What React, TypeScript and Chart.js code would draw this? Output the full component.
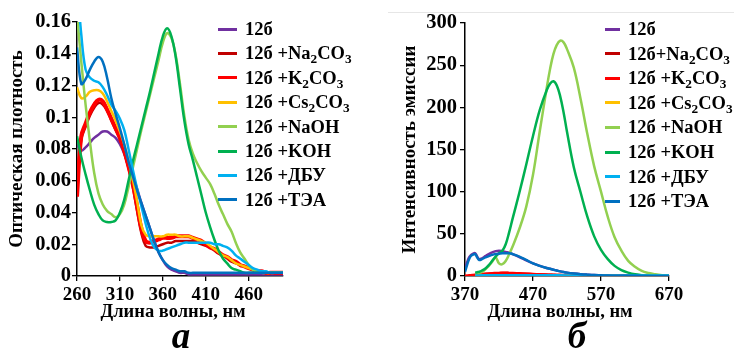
import React, { useEffect, useRef } from "react";
import { Chart, registerables } from "chart.js";

Chart.register(...registerables);

const FONT = '"Liberation Serif", "Times New Roman", Times, serif';

// ---------- panel а: absorption ----------
const ABS_WAVELENGTHS = [
  260, 265, 270, 275, 280, 285, 290, 295, 300, 305, 310, 315, 320, 325, 330, 335, 340,
  345, 350, 355, 360, 365, 370, 375, 380, 385, 390, 395, 400, 405, 410, 415, 420, 425,
  430, 435, 440, 445, 450, 455, 460, 465, 470, 475, 480, 485, 490, 495, 500,
];
const ABS_12B = [
  0.083, 0.079, 0.081, 0.084, 0.087, 0.089, 0.091, 0.091, 0.089, 0.087, 0.083, 0.077, 0.069,
  0.063, 0.055, 0.046, 0.038, 0.03, 0.022, 0.015, 0.01, 0.006, 0.004, 0.003, 0.002, 0.002,
  0.001, 0.001, 0.001, 0.001, 0.001, 0.001, 0.001, 0.001, 0.001, 0.001, 0.001, 0.001, 0.001,
  0.001, 0.001, 0.001, 0.001, 0.001, 0.001, 0.001, 0.001, 0.001, 0.001,
];
const ABS_NA2CO3 = [
  0.06, 0.086, 0.094, 0.101, 0.106, 0.109, 0.108, 0.104, 0.098, 0.092, 0.086, 0.078, 0.068,
  0.056, 0.041, 0.027, 0.019, 0.018, 0.018, 0.019, 0.02, 0.021, 0.021, 0.022, 0.022, 0.022,
  0.022, 0.022, 0.021, 0.02, 0.019, 0.018, 0.016, 0.014, 0.013, 0.011, 0.009, 0.008, 0.007,
  0.006, 0.005, 0.004, 0.003, 0.003, 0.002, 0.002, 0.002, 0.002, 0.002,
];
const ABS_K2CO3 = [
  0.05, 0.088, 0.096, 0.103, 0.108, 0.111, 0.11, 0.105, 0.099, 0.093, 0.087, 0.079, 0.069,
  0.058, 0.044, 0.03, 0.022, 0.021, 0.022, 0.023, 0.024, 0.024, 0.024, 0.025, 0.025, 0.025,
  0.025, 0.024, 0.023, 0.022, 0.02, 0.018, 0.017, 0.015, 0.013, 0.012, 0.01, 0.009, 0.007,
  0.006, 0.005, 0.004, 0.003, 0.003, 0.002, 0.002, 0.002, 0.002, 0.002,
];
const ABS_CS2CO3 = [
  0.119, 0.112, 0.113, 0.116, 0.117, 0.117, 0.115, 0.11, 0.104, 0.098, 0.091, 0.083, 0.073,
  0.061, 0.047, 0.032, 0.026, 0.025, 0.025, 0.025, 0.025, 0.026, 0.026, 0.026, 0.025, 0.025,
  0.025, 0.024, 0.023, 0.022, 0.021, 0.019, 0.017, 0.015, 0.013, 0.012, 0.01, 0.008, 0.007,
  0.006, 0.005, 0.004, 0.003, 0.003, 0.002, 0.002, 0.002, 0.002, 0.002,
];
const ABS_NAOH = [
  0.165, 0.135, 0.108, 0.085, 0.065, 0.052, 0.045, 0.041, 0.039, 0.037, 0.039, 0.045, 0.056,
  0.068, 0.08, 0.092, 0.103, 0.114, 0.125, 0.136, 0.147, 0.153, 0.15, 0.139, 0.121, 0.101,
  0.086, 0.077, 0.071, 0.066, 0.062, 0.058, 0.052, 0.045, 0.039, 0.033, 0.028, 0.021, 0.015,
  0.011, 0.007, 0.004, 0.003, 0.002, 0.002, 0.002, 0.002, 0.002, 0.002,
];
const ABS_KOH = [
  0.088, 0.075, 0.064, 0.054, 0.045, 0.039, 0.035, 0.034, 0.034, 0.035, 0.04, 0.048, 0.06,
  0.072, 0.083, 0.094, 0.105, 0.116, 0.128, 0.14, 0.151, 0.156, 0.151, 0.138, 0.118, 0.098,
  0.083, 0.073, 0.062, 0.051, 0.04, 0.031, 0.023, 0.016, 0.011, 0.008, 0.005, 0.004, 0.003,
  0.002, 0.002, 0.002, 0.002, 0.002, 0.002, 0.002, 0.002, 0.002, 0.002,
];
const ABS_DBU = [
  0.185, 0.152, 0.13, 0.125, 0.123, 0.122, 0.119, 0.114, 0.108, 0.104, 0.099, 0.092, 0.08,
  0.067, 0.055, 0.044, 0.033, 0.024, 0.018, 0.016, 0.016, 0.017, 0.018, 0.019, 0.02, 0.021,
  0.021, 0.021, 0.021, 0.021, 0.021, 0.021, 0.02, 0.02, 0.019, 0.018, 0.016, 0.013, 0.011,
  0.009, 0.007, 0.005, 0.004, 0.003, 0.003, 0.002, 0.002, 0.002, 0.002,
];
const ABS_TEA = [
  0.144, 0.121, 0.124, 0.13, 0.135, 0.138, 0.135, 0.125, 0.112, 0.102, 0.093, 0.083, 0.072,
  0.063, 0.054, 0.046, 0.038, 0.03, 0.022, 0.015, 0.01, 0.007, 0.005, 0.004, 0.003, 0.003,
  0.002, 0.002, 0.002, 0.002, 0.002, 0.002, 0.002, 0.002, 0.002, 0.002, 0.002, 0.002, 0.002,
  0.002, 0.002, 0.002, 0.002, 0.002, 0.002, 0.002, 0.002, 0.002, 0.002,
];
const ABS_X_TICKS = [260, 310, 360, 410, 460];

// ---------- panel б: emission ----------
const EM_WAVELENGTHS = [
  370, 373, 376, 379, 382, 385, 388, 391, 395, 400, 405, 410, 415, 420, 425, 430, 435, 440,
  450, 460, 470, 480, 490, 495, 500, 505, 510, 515, 520, 530, 540, 550, 560, 570, 580, 590,
  600, 610, 620, 630, 640, 650, 660, 670,
];
const EM_12B = [
  8, 16, 22, 25, 26.5, 27, 23, 20, 21, 23.5, 26, 28, 29.5, 30, 29.5, 28.5, 27.5, 26, 22.5,
  18.5, 15, 12, 9.5, 8.5, 7.5, 6.5, 5.5, 4.7, 4, 3, 2.2, 1.6, 1.1, 0.8, 0.5, 0.4, 0.3, 0.2,
  0.2, 0.1, 0.1, 0.1, 0, 0,
];
const EM_NA2CO3 = [
  null, null, null, null, null, 1, 1.3, 1.6, 2, 2.4, 2.8, 3.1, 3.3, 3.4, 3.5, 3.5, 3.4, 3.3,
  3, 2.6, 2.2, 1.8, 1.5, 1.4, 1.3, 1.2, 1.1, 1, 0.9, 0.7, 0.6, 0.5, 0.4, 0.3, 0.3, 0.2, 0.2,
  0.1, 0.1, 0.1, 0, 0, 0, 0,
];
const EM_K2CO3 = [
  0.3, 0.5, 0.8, 1, 1.2, 1.5, 1.8, 2, 2.3, 2.6, 3, 3.3, 3.5, 3.7, 3.8, 3.8, 3.7, 3.6, 3.2,
  2.8, 2.4, 2, 1.7, 1.5, 1.4, 1.3, 1.1, 1, 0.9, 0.7, 0.6, 0.5, 0.4, 0.3, 0.3, 0.2, 0.2, 0.1,
  0.1, 0.1, 0, 0, 0, 0,
];
const EM_CS2CO3 = [
  null, null, null, null, null, 0.3, 0.4, 0.4, 0.5, 0.5, 0.5, 0.5, 0.5, 0.5, 0.5, 0.5, 0.5,
  0.5, 0.5, 0.5, 0.5, 0.4, 0.4, 0.4, 0.4, 0.4, 0.3, 0.3, 0.3, 0.3, 0.3, 0.2, 0.2, 0.2, 0.2,
  0.2, 0.1, 0.1, 0.1, 0.1, 0.1, 0.1, 0, 0,
];
const EM_NAOH = [
  null, null, null, null, null, 3, 3.5, 4, 5, 8, 12, 17, 22, 15, 14, 18, 26, 35, 56, 82, 120,
  172, 222, 245, 263, 274, 279, 277, 269, 247, 210, 168, 130, 100, 70, 46, 30, 18, 11, 6,
  3.5, 2, 1, 0.5,
];
const EM_KOH = [
  null, null, null, null, null, 4, 4.5, 5, 6.5, 9, 13, 18, 23, 27, 30, 38, 52, 68, 99, 132,
  166, 197, 220, 228, 231, 226, 213, 194, 171, 129, 99, 70, 47, 31, 20, 12, 7, 4, 2, 1, 0.4,
  0.1, 0, 0,
];
const EM_DBU = [
  null, null, null, null, null, 0.6, 0.7, 0.7, 0.8, 0.9, 0.9, 1, 1, 1, 1, 1, 1, 1, 1, 0.9,
  0.9, 0.9, 0.8, 0.8, 0.8, 0.8, 0.8, 0.7, 0.7, 0.7, 0.7, 0.6, 0.6, 0.6, 0.6, 0.5, 0.5, 0.5,
  0.5, 0.5, 0.5, 0.5, 0.5, 0.5,
];
const EM_TEA = [
  5, 13, 20, 24, 25.5, 26, 22, 19, 20, 22, 23.5, 25, 26, 26.5, 27, 27, 27, 26, 23, 19, 15,
  12, 9.5, 8.5, 7.5, 6.5, 5.5, 4.7, 4, 3, 2.2, 1.6, 1.1, 0.8, 0.5, 0.4, 0.3, 0.2, 0.2, 0.1,
  0.1, 0.1, 0, 0,
];
const EM_X_TICKS = [370, 470, 570, 670];

// ---------- series ----------
const SERIES_COLORS = [
  "#7030A0", "#C00000", "#FF0000", "#FFC000", "#92D050", "#00B050", "#00B0F0", "#0070C0",
];
const SERIES_LABELS = [
  "12б", "12б +Na₂CO₃", "12б +K₂CO₃", "12б +Cs₂CO₃", "12б +NaOH", "12б +KOH", "12б +ДБУ", "12б +ТЭА",
];
const LEGEND_A = [
  "12б", "12б +Na_2CO_3", "12б +K_2CO_3", "12б +Cs_2CO_3", "12б +NaOH", "12б +KOH", "12б +ДБУ", "12б +ТЭА",
];
const LEGEND_B = [
  "12б", "12б+Na_2CO_3", "12б +K_2CO_3", "12б +Cs_2CO_3", "12б +NaOH", "12б +KOH", "12б +ДБУ", "12б +ТЭА",
];
const ABS_WIDTHS = [2.5, 2.5, 4, 2.5, 2.5, 2.5, 2.5, 2.5];
const EM_WIDTHS = [2.5, 2.5, 2.5, 2.5, 2.5, 2.5, 2.5, 2.5];

function buildDatasets(xs: number[], ys: (number | null)[][], widths: number[]) {
  return ys.map((y, i) => ({
    label: SERIES_LABELS[i],
    data: xs.map((x, j) => ({ x, y: y[j] })),
    borderColor: SERIES_COLORS[i],
    backgroundColor: SERIES_COLORS[i],
    borderWidth: widths[i],
    pointRadius: 0,
    pointHoverRadius: 0,
    tension: 0.4,
    fill: false,
    spanGaps: false,
    order: -i,
  }));
}

function makeScales(o: {
  xMin: number; xMax: number; xTicks: number[];
  yMax: number; yStep: number; yWidth: number;
  yTitle: string; yTitlePad: number; yLabelPad: number;
  yFmt: (v: number) => string;
}) {
  const grid = { drawOnChartArea: false, drawTicks: true, tickLength: 5, color: "#000", lineWidth: 1.3 };
  const border = { display: true, color: "#000", width: 1.5 };
  return {
    x: {
      type: "linear" as const,
      min: o.xMin,
      max: o.xMax,
      afterBuildTicks: (s: any) => { s.ticks = o.xTicks.map((value) => ({ value })); },
      afterFit: (s: any) => { s.height = 78; },
      grid, border,
      ticks: {
        color: "#000", font: { family: FONT, size: 19, weight: "bold" as const },
        padding: 3, maxRotation: 0, autoSkip: false,
      },
      title: {
        display: true,
        text: "Длина волны, нм\u00A0\u00A0\u00A0",
        color: "#000",
        font: { family: FONT, size: 18.5, weight: "bold" as const },
        padding: { top: 0, bottom: 31 },
      },
    },
    y: {
      type: "linear" as const,
      min: 0,
      max: o.yMax,
      afterFit: (s: any) => { s.width = o.yWidth; },
      grid, border,
      ticks: {
        stepSize: o.yStep, color: "#000", font: { family: FONT, size: 20.5, weight: "bold" as const },
        padding: o.yLabelPad,
        callback: (v: any) => o.yFmt(Number(v)),
      },
      title: {
        display: true,
        text: o.yTitle,
        color: "#000",
        font: { family: FONT, size: 19, weight: "bold" as const },
        padding: { top: o.yTitlePad, bottom: 0 },
      },
    },
  };
}

function makeAbsConfig(): any {
  return {
    type: "line",
    data: {
      datasets: buildDatasets(
        ABS_WAVELENGTHS,
        [ABS_12B, ABS_NA2CO3, ABS_K2CO3, ABS_CS2CO3, ABS_NAOH, ABS_KOH, ABS_DBU, ABS_TEA],
        ABS_WIDTHS,
      ),
    },
    options: {
      responsive: false,
      animation: false,
      events: [],
      layout: { padding: { top: 22, right: 87, bottom: 0, left: 0 } },
      plugins: { legend: { display: false }, tooltip: { enabled: false } },
      scales: makeScales({
        xMin: 260, xMax: 500, xTicks: ABS_X_TICKS,
        yMax: 0.16, yStep: 0.02, yWidth: 77,
        yTitle: "Оптическая плотность", yTitlePad: 6, yLabelPad: 1,
        yFmt: (v) => String(parseFloat(v.toFixed(2))),
      }),
    },
  };
}

function makeEmConfig(): any {
  return {
    type: "line",
    data: {
      datasets: buildDatasets(
        EM_WAVELENGTHS,
        [EM_12B, EM_NA2CO3, EM_K2CO3, EM_CS2CO3, EM_NAOH, EM_KOH, EM_DBU, EM_TEA],
        EM_WIDTHS,
      ),
    },
    options: {
      responsive: false,
      animation: false,
      events: [],
      layout: { padding: { top: 23, right: 65, bottom: 0, left: 0 } },
      plugins: { legend: { display: false }, tooltip: { enabled: false } },
      scales: makeScales({
        xMin: 370, xMax: 670, xTicks: EM_X_TICKS,
        yMax: 300, yStep: 50, yWidth: 95,
        yTitle: "Интенсивность эмиссии", yTitlePad: 29, yLabelPad: 3,
        yFmt: (v) => String(Math.round(v)),
      }),
    },
  };
}

function ChartPanel({ width, height, make }: { width: number; height: number; make: () => any }) {
  const ref = useRef<HTMLCanvasElement>(null);
  useEffect(() => {
    const chart = new Chart(ref.current as HTMLCanvasElement, make());
    return () => chart.destroy();
  }, []);
  return <canvas ref={ref} width={width} height={height} style={{ width, height, display: "block" }} />;
}

function renderSub(label: string) {
  const parts = label.split(/_(\d)/);
  return parts.map((p, i) =>
    i % 2 === 1 ? (
      <sub key={i} style={{ fontSize: "0.72em", verticalAlign: "-0.28em", lineHeight: 0 }}>{p}</sub>
    ) : (
      <React.Fragment key={i}>{p}</React.Fragment>
    ),
  );
}

function Legend({ labels, lineX, lineW, textX, firstY, stepY }: {
  labels: string[]; lineX: number; lineW: number; textX: number; firstY: number; stepY: number;
}) {
  return (
    <>
      {labels.map((lab, i) => {
        const cy = firstY + i * stepY;
        return (
          <React.Fragment key={i}>
            <div style={{ position: "absolute", left: lineX, top: cy - 1.5, width: lineW, height: 3, background: SERIES_COLORS[i] }} />
            <div style={{ position: "absolute", left: textX, top: cy - 9, height: 18, lineHeight: "18px", fontSize: 18.5, fontWeight: "bold", whiteSpace: "nowrap", color: "#000" }}>
              {renderSub(lab)}
            </div>
          </React.Fragment>
        );
      })}
    </>
  );
}

function PanelLetter({ text, cx }: { text: string; cx: number }) {
  return (
    <div style={{ position: "absolute", left: cx - 40, width: 80, top: 318, textAlign: "center", fontSize: 37, lineHeight: "36px", fontWeight: "bold", fontStyle: "italic", color: "#000" }}>
      {text}
    </div>
  );
}

export default function App() {
  return (
    <div style={{ position: "fixed", left: 0, top: 0, width: 734, height: 354, overflow: "hidden", background: "#fff", fontFamily: FONT }}>
      <div style={{ position: "absolute", left: 388, top: 12, width: 346, height: 1, background: "#e6e6e6" }} />
      <div style={{ position: "absolute", left: 0, top: 0 }}>
        <ChartPanel width={370} height={354} make={makeAbsConfig} />
      </div>
      <div style={{ position: "absolute", left: 370, top: 0 }}>
        <ChartPanel width={364} height={354} make={makeEmConfig} />
      </div>
      <Legend labels={LEGEND_A} lineX={218} lineW={19} textX={245} firstY={29} stepY={24.4} />
      <Legend labels={LEGEND_B} lineX={605} lineW={15} textX={628} firstY={29} stepY={24.6} />
      <PanelLetter text="а" cx={181} />
      <PanelLetter text="б" cx={577} />
    </div>
  );
}
